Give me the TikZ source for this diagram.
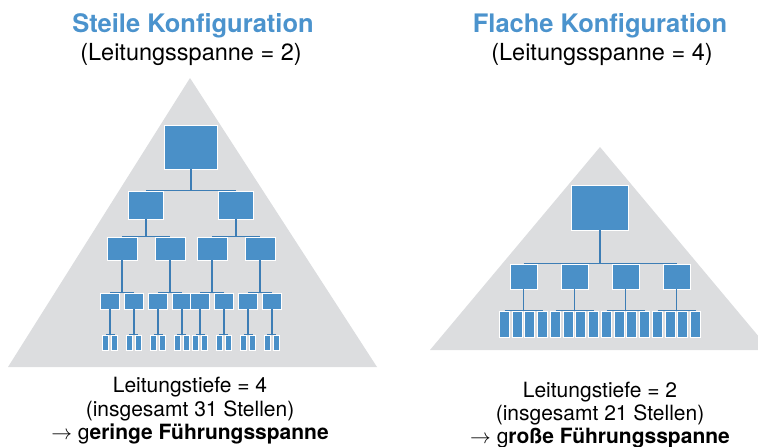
\documentclass[tikz,border=0pt]{standalone}
\usepackage{fontspec}
\setmainfont{TeX Gyre Heros}
\usetikzlibrary{calc}

\definecolor{orgblue}{HTML}{4A90C8}
\definecolor{lineblue}{HTML}{3D7DB5}
\definecolor{headblue}{HTML}{4B93CD}
\definecolor{pyrgray}{HTML}{DCDDDF}

\begin{document}
\begin{tikzpicture}[x=1pt,y=-1pt,
  org/.style={draw=white, line width=0.9pt, fill=orgblue, inner sep=0pt},
  conn/.style={draw=lineblue, line width=1.6pt},
  head/.style={font=\fontsize{25.5}{30}\selectfont\bfseries, text=headblue, anchor=base},
  sub/.style={font=\fontsize{23.5}{28}\selectfont, anchor=base},
  foot/.style={font=\fontsize{21}{24}\selectfont, anchor=base}]
\useasboundingbox (0,0) rectangle (758,447);

% pyramids
\begin{scope}
\clip (0,0) rectangle (758,447);
\fill[pyrgray] (8,367) -- (190,78) -- (377,367) -- cycle;
\fill[pyrgray] (430,350) -- (600,147) -- (770,350) -- cycle;
\end{scope}

% steile Konfiguration
\node[head] (steil) at (193,32) {Steile Konfiguration};
\node[sub] (steilsp) at (191,60) {(Leitungsspanne = 2)};

\node[org, minimum width=53, minimum height=44] (s) at (191,147) {};
\foreach \i/\a in {1/-45,2/45} {
  \node[org, minimum width=35, minimum height=28] (s\i) at ($(s)+(\a,58)$) {};
  \foreach \j/\b in {1/-24,2/24} {
    \node[org, minimum width=30, minimum height=23] (s\i\j) at ($(s\i)+(\b,43.5)$) {};
    \foreach \k/\c in {1/-11.75,2/11.75} {
      \node[org, minimum width=19, minimum height=16] (s\i\j\k) at ($(s\i\j)+(\c,52.5)$) {};
      \foreach \m/\d in {1/-4.5,2/4.5}
        \node[org, minimum width=6, minimum height=15] (s\i\j\k\m) at ($(s\i\j\k)+(\d,41.5)$) {};
      \draw[conn] (s\i\j\k.south) -- (s\i\j\k.south |- s\i\j\k1.north);
      \draw[conn, line width=1pt] (s\i\j\k1.north) -- (s\i\j\k2.north);
    }
    \draw[conn] (s\i\j.south) -- (s\i\j.south |- s\i\j1.north);
    \draw[conn, line width=1pt] (s\i\j1.north) -- (s\i\j2.north);
  }
  \draw[conn] (s\i.south) -- (s\i.south |- s\i1.north);
  \draw[conn, line width=1pt] (s\i1.north) -- (s\i2.north);
}
\draw[conn] (s.south) -- (s.south |- s1.north);
\draw[conn, line width=1pt] (s1.north) -- (s2.north);

\node[foot] (stiefe) at (190,392) {Leitungstiefe = 4};
\node[foot] (sstellen) at (190,416) {(insgesamt 31 Stellen)};
\node[foot] (sspanne) at (190,439) {$\rightarrow$ g\textbf{eringe Führungsspanne}};

% flache Konfiguration
\node[head] (flach) at (600,32) {Flache Konfiguration};
\node[sub] (flachsp) at (602,60) {(Leitungsspanne = 4)};

\node[org, minimum width=57, minimum height=45] (f) at (600,207.5) {};
\foreach \i/\a in {1/-76.5,2/-25.5,3/25.5,4/76.5} {
  \node[org, minimum width=27, minimum height=25] (f\i) at ($(f)+(\a,69)$) {};
  \foreach \j/\b in {1/-19,2/-6.33,3/6.33,4/19}
    \node[org, minimum width=10, minimum height=26] (f\i\j) at ($(f\i)+(\b,47.5)$) {};
  \draw[conn] (f\i.south) -- (f\i.south |- f\i1.north);
  \draw[conn, line width=1pt] (f\i1.north) -- (f\i4.north);
}
\draw[conn] (f.south) -- (f.south |- f1.north);
\draw[conn, line width=1pt] (f1.north) -- (f4.north);

\node[foot] (ftiefe) at (600,397) {Leitungstiefe = 2};
\node[foot] (fstellen) at (600,420) {(insgesamt 21 Stellen)};
\node[foot] (fspanne) at (600,443) {$\rightarrow$ g\textbf{roße Führungsspanne}};
\end{tikzpicture}
\end{document}
